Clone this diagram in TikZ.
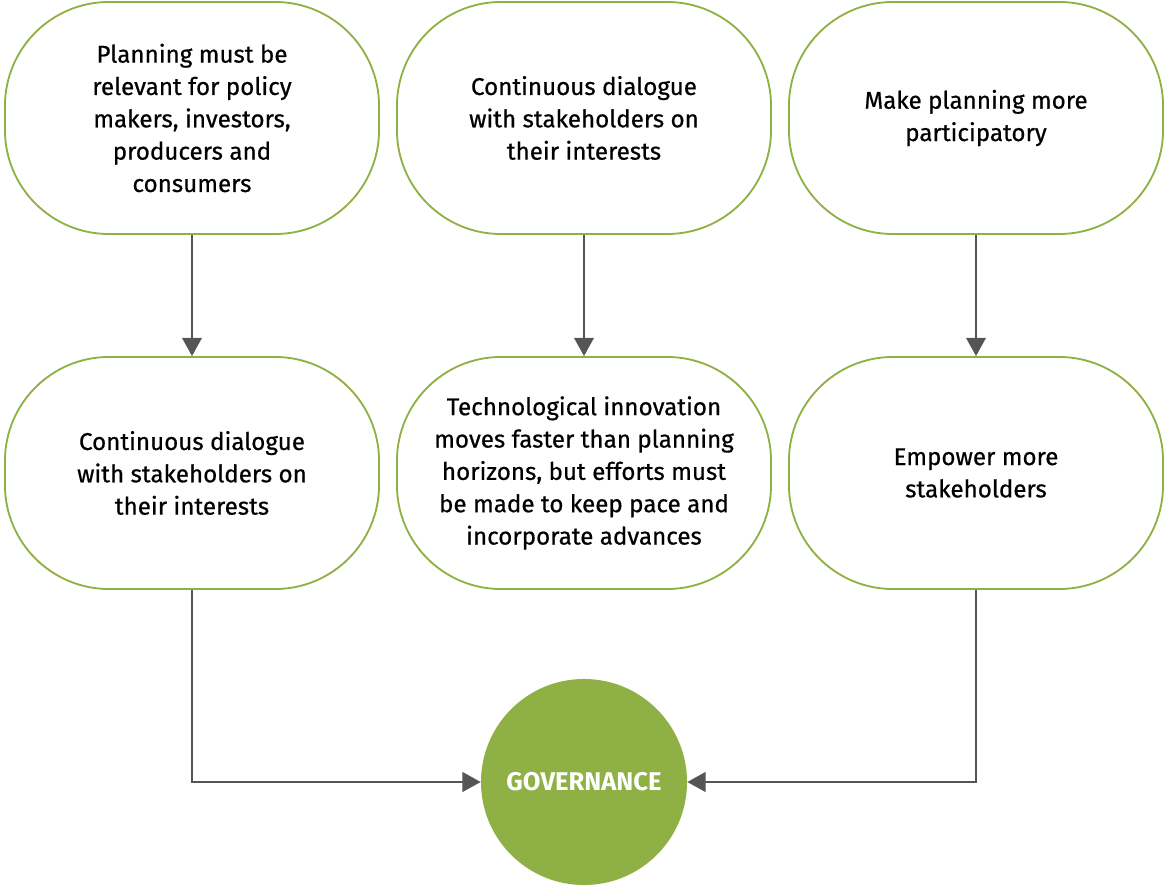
\documentclass[tikz,border=0pt]{standalone}
\usepackage{fontspec}
\setmainfont{Fira Sans}
\newfontfamily\pillfont{Fira Sans}[FakeBold=0.6]
\usepackage{tikz}
\usetikzlibrary{shapes,arrows.meta,positioning}

\definecolor{leafgreen}{HTML}{8FB044}
\definecolor{arrowgrey}{HTML}{555555}

\tikzset{
  pill/.style={draw=leafgreen, line width=1.3pt, fill=white, rounded corners=2.6cm,
    minimum width=9.35cm, minimum height=5.8cm, align=center,
    font=\pillfont\fontsize{17.2}{23}\selectfont},
  hub/.style={circle, fill=leafgreen, minimum size=5.15cm, text=white,
    font=\fontsize{18.2}{21}\selectfont\bfseries},
  link/.style={arrowgrey, line width=1.4pt, -{Triangle[width=14pt,length=13pt]}}
}

\begin{document}
\begin{tikzpicture}[x=0.025cm, y=-0.025cm]
  \useasboundingbox (0,0) rectangle (1166,886);
  % top row
  \node[pill] (plan) at (192,118) {Planning must be\\relevant for policy\\makers, investors,\\producers and\\consumers};
  \node[pill] (talk) at (584,118) {Continuous dialogue\\with stakeholders on\\their interests};
  \node[pill] (part) at (976,118) {Make planning more\\participatory};
  % second row
  \node[pill] (talk2) at (192,473) {Continuous dialogue\\with stakeholders on\\their interests};
  \node[pill] (tech) at (584,473) {Technological innovation\\moves faster than planning\\horizons, but efforts must\\be made to keep pace and\\incorporate advances};
  \node[pill] (power) at (976,473) {Empower more\\stakeholders};
  % centre
  \node[hub] (gov) at (584,782) {GOVERNANCE};

  \draw[link] (plan) -- (talk2);
  \draw[link] (talk) -- (tech);
  \draw[link] (part) -- (power);
  \draw[link] (talk2.south) |- (gov.west);
  \draw[link] (power.south) |- (gov.east);
\end{tikzpicture}
\end{document}
